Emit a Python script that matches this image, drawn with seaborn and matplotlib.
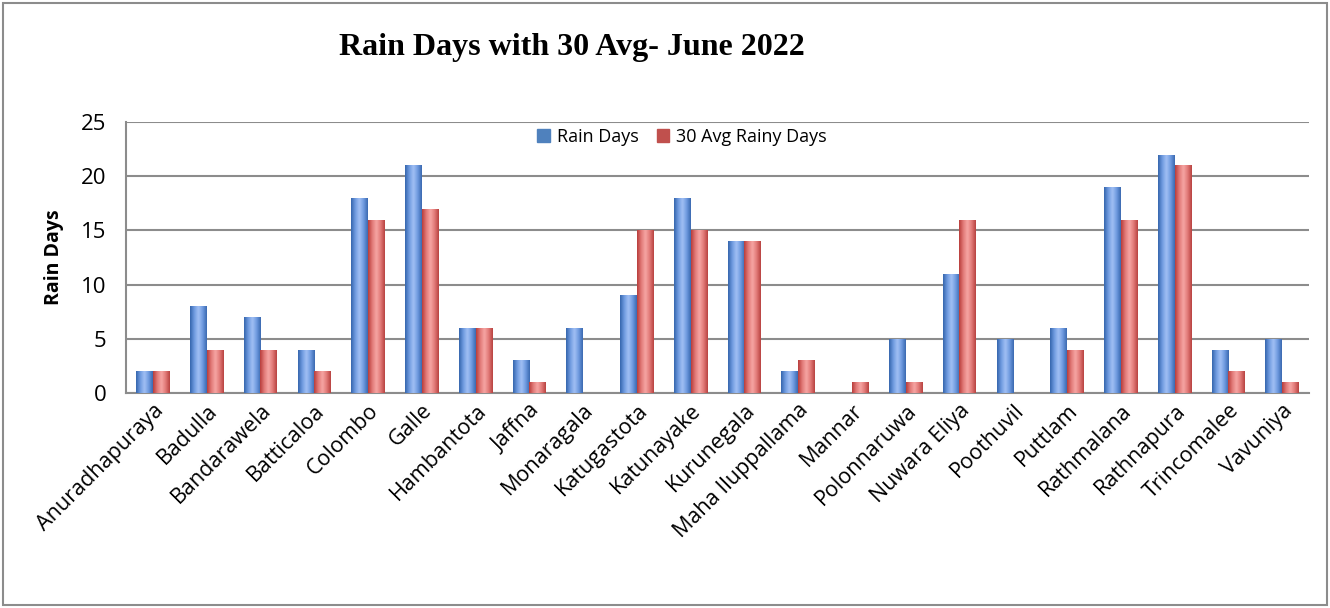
import matplotlib
matplotlib.use("Agg")
import matplotlib.pyplot as plt
import matplotlib.colors as mcolors
from matplotlib.patches import Rectangle
import seaborn as sns
import pandas as pd
import numpy as np

stations = ["Anuradhapuraya", "Badulla", "Bandarawela", "Batticaloa", "Colombo",
            "Galle", "Hambantota", "Jaffna", "Monaragala", "Katugastota",
            "Katunayake", "Kurunegala", "Maha Iluppallama", "Mannar", "Polonnaruwa",
            "Nuwara Eliya", "Poothuvil", "Puttlam", "Rathmalana", "Rathnapura",
            "Trincomalee", "Vavuniya"]
rain_days = [2, 8, 7, 4, 18, 21, 6, 3, 6, 9, 18, 14, 2, 0, 5, 11, 5, 6, 19, 22, 4, 5]
avg_days = [2, 4, 4, 2, 16, 17, 6, 1, 0, 15, 15, 14, 3, 1, 1, 16, 0, 4, 16, 21, 2, 1]
series = ["Rain Days", "30 Avg Rainy Days"]

df = pd.DataFrame({
    "Station": stations * 2,
    "Days": rain_days + avg_days,
    "Series": [series[0]] * len(stations) + [series[1]] * len(stations),
})

sns.set_style("white")
plt.rcParams["font.family"] = ["Open Sans", "DejaVu Sans"]
plt.rcParams["text.color"] = "black"
plt.rcParams["xtick.color"] = "black"
plt.rcParams["ytick.color"] = "black"
plt.rcParams["axes.labelcolor"] = "black"

fig = plt.figure(figsize=(13.3, 6.08), dpi=100)
ax = fig.add_axes([126 / 1330, 1 - 393 / 608, (1309 - 126) / 1330, (393 - 122) / 608])

palette = {series[0]: "#4f81bd", series[1]: "#c0504d"}
sns.barplot(data=df, x="Station", y="Days", hue="Series", palette=palette,
            width=0.62, saturation=1, ax=ax, legend=False, zorder=3)

# shaded "cylinder" look: horizontal gradient clipped to every bar
shades = {
    "#4f81bd": ["#3565ad", "#6f9be0", "#a2c0f4", "#6f9be0", "#3a69b0"],
    "#c0504d": ["#b83c3a", "#e27a78", "#f6a6a4", "#e27a78", "#b84240"],
}
for patch in list(ax.patches):
    h = patch.get_height()
    x, w = patch.get_x(), patch.get_width()
    key = mcolors.to_hex(patch.get_facecolor())
    patch.set_edgecolor("none")
    if h <= 0 or key not in shades:
        continue
    cmap = mcolors.LinearSegmentedColormap.from_list("g", shades[key])
    grad = np.linspace(0, 1, 64).reshape(1, -1)
    im = ax.imshow(grad, cmap=cmap, extent=[x, x + w, 0, h], aspect="auto",
                   zorder=3.5, interpolation="bicubic")
    im.set_clip_path(patch)

ax.set_xlim(-0.5, len(stations) - 0.5)
ax.set_ylim(0, 25)
ax.set_yticks(range(0, 26, 5))
ax.yaxis.grid(True, color="#8c8c8c", linewidth=1.5, zorder=0)
ax.set_axisbelow(True)
for side in ["top", "right"]:
    ax.spines[side].set_visible(False)
for side in ["left", "bottom"]:
    ax.spines[side].set_color("#8c8c8c")
    ax.spines[side].set_linewidth(1.5)

ax.tick_params(axis="y", labelsize=16, length=0, pad=14)
ax.tick_params(axis="x", labelsize=15.5, length=0, pad=5)
plt.setp(ax.get_xticklabels(), rotation=45, ha="right", rotation_mode="anchor")
ax.set_xlabel("")
ax.set_ylabel("Rain Days", fontsize=14, fontweight="bold", labelpad=12)

handles = [plt.Rectangle((0, 0), 1, 1, color=palette[s]) for s in series]
ax.legend(handles, series, loc="center", bbox_to_anchor=(0.47, 0.945), ncol=2,
          frameon=False, fontsize=13, handlelength=0.7, handleheight=0.7,
          handletextpad=0.4, columnspacing=1.0)

fig.text(572 / 1330, 1 - 47 / 608, "Rain Days with 30 Avg- June 2022",
         ha="center", va="center", fontsize=23, fontweight="bold",
         family=["Liberation Serif", "DejaVu Serif"])

fig.patches.append(Rectangle((3 / 1330, 0.005), 1 - 6 / 1330, 1 - 0.01,
                             transform=fig.transFigure, fill=False,
                             edgecolor="#8c8c8c", linewidth=1.5))

fig.savefig("out.png", dpi=100)
